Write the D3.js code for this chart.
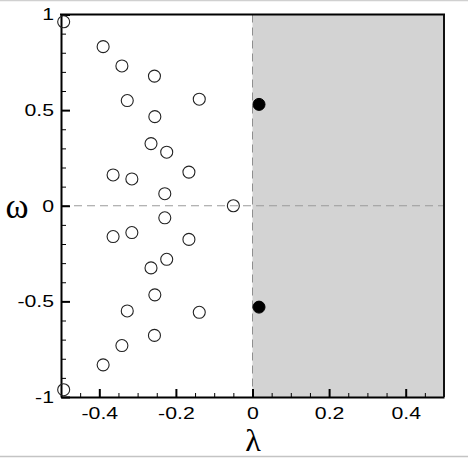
<!DOCTYPE html>
<html>
<head>
<meta charset="utf-8">
<script src="https://cdn.jsdelivr.net/npm/d3@7"></script>
<style>
html,body{margin:0;padding:0;background:#fff;}
svg{display:block;}
</style>
</head>
<body>
<svg id="chart" width="468" height="458"></svg>
<script>
// Stable eigenvalues (open circles)
const stableLambda = [-0.493,-0.390,-0.341,-0.256,-0.327,-0.139,-0.255,-0.265,-0.224,-0.364,-0.315,-0.166,-0.229,-0.050,
                      -0.229,-0.166,-0.315,-0.364,-0.224,-0.265,-0.255,-0.139,-0.327,-0.256,-0.341,-0.390,-0.493];
const stableOmega  = [0.962,0.832,0.731,0.678,0.550,0.557,0.466,0.325,0.280,0.161,0.140,0.176,0.063,0.000,
                      -0.063,-0.176,-0.140,-0.161,-0.280,-0.325,-0.466,-0.557,-0.550,-0.678,-0.731,-0.832,-0.962];
// Unstable eigenvalues (filled circles)
const unstableLambda = [0.017, 0.017];
const unstableOmega  = [0.530, -0.530];

const xMajorTicks = [-0.4,-0.2,0,0.2,0.4];
const yMajorTicks = [-1,-0.5,0,0.5,1];
const xDomain = [-0.5, 0.5];
const yDomain = [-1, 1];

const svg = d3.select("#chart");
const L = 61, R = 444, T = 14.5, B = 397;
const x = d3.scaleLinear().domain(xDomain).range([L, R]);
const y = d3.scaleLinear().domain(yDomain).range([B, T]);

const sans = "'Liberation Sans', Arial, Helvetica, sans-serif";
const serif = "'Liberation Serif', 'DejaVu Serif', serif";

// widen glyphs horizontally like the reference's stretched Helvetica
function widen(sel, k) {
  sel.each(function() {
    const w = this.getComputedTextLength();
    d3.select(this).attr("textLength", w * k).attr("lengthAdjust", "spacingAndGlyphs");
  });
}

// outer light border lines
svg.append("line").attr("x1",0).attr("x2",468).attr("y1",0.5).attr("y2",0.5).attr("stroke","#d0d0d0").attr("stroke-width",1.5);
svg.append("line").attr("x1",0).attr("x2",468).attr("y1",456.5).attr("y2",456.5).attr("stroke","#c4c4c4").attr("stroke-width",1.5);

// shaded unstable half-plane
svg.append("rect")
  .attr("x", x(0)).attr("y", y(1))
  .attr("width", x(0.5) - x(0)).attr("height", y(-1) - y(1))
  .attr("fill", "#d3d3d3");

// dashed reference lines
svg.append("line").attr("x1", x(0)).attr("x2", x(0)).attr("y1", y(1)).attr("y2", y(-1))
  .attr("stroke", "#8f8f8f").attr("stroke-width", 1).attr("stroke-dasharray", "8,5");
svg.append("line").attr("x1", x(-0.5)).attr("x2", x(0.5)).attr("y1", y(0)).attr("y2", y(0))
  .attr("stroke", "#9a9a9a").attr("stroke-width", 1).attr("stroke-dasharray", "8,5");

// axes with inward ticks
const xMinor = d3.range(-0.5, 0.5001, 0.05).map(v => +v.toFixed(2)).filter(v => !xMajorTicks.some(t => Math.abs(t - v) < 1e-6));
const yMinor = d3.range(-1, 1.0001, 0.1).map(v => +v.toFixed(2)).filter(v => !yMajorTicks.some(t => Math.abs(t - v) < 1e-6));

const fmt = v => (v === 0 ? "0" : String(v));

const xAxis = svg.append("g").attr("transform", `translate(0,${B})`)
  .call(d3.axisBottom(x).tickValues(xMajorTicks).tickSizeInner(-8).tickSizeOuter(0).tickPadding(10).tickFormat(fmt));
xAxis.select(".domain").attr("stroke", "#000").attr("stroke-width", 2);
xAxis.selectAll(".tick line").attr("stroke", "#000").attr("stroke-width", 2);
xAxis.selectAll(".tick text").style("font-family", sans).style("font-size", "17px").attr("fill", "#000")
  .call(widen, 1.25);
svg.append("g").attr("transform", `translate(0,${B})`)
  .call(d3.axisBottom(x).tickValues(xMinor).tickSize(-4).tickFormat(""))
  .call(g => { g.select(".domain").remove(); g.selectAll("line").attr("stroke", "#000").attr("stroke-width", 1); });

const yAxis = svg.append("g").attr("transform", `translate(${L},0)`)
  .call(d3.axisLeft(y).tickValues(yMajorTicks).tickSizeInner(-9).tickSizeOuter(0).tickPadding(7).tickFormat(fmt));
yAxis.select(".domain").attr("stroke", "#000").attr("stroke-width", 2);
yAxis.selectAll(".tick line").attr("stroke", "#000").attr("stroke-width", 2);
yAxis.selectAll(".tick text").style("font-family", sans).style("font-size", "17px").attr("fill", "#000")
  .call(widen, 1.25);
svg.append("g").attr("transform", `translate(${L},0)`)
  .call(d3.axisLeft(y).tickValues(yMinor).tickSize(-5).tickFormat(""))
  .call(g => { g.select(".domain").remove(); g.selectAll("line").attr("stroke", "#000").attr("stroke-width", 1); });

// top and right frame
svg.append("line").attr("x1", L - 1).attr("x2", R + 1).attr("y1", T).attr("y2", T).attr("stroke", "#000").attr("stroke-width", 2);
svg.append("line").attr("x1", R).attr("x2", R).attr("y1", T).attr("y2", B).attr("stroke", "#111").attr("stroke-width", 2);

// stable points
const stable = stableLambda.map((l, i) => ({l, w: stableOmega[i]}));
svg.append("g").selectAll("circle").data(stable).join("circle")
  .attr("cx", d => x(d.l)).attr("cy", d => y(d.w)).attr("r", 6)
  .attr("fill", "none").attr("stroke", "#222").attr("stroke-width", 1.1);

const unstable = unstableLambda.map((l, i) => ({l, w: unstableOmega[i]}));
svg.append("g").selectAll("circle").data(unstable).join("circle")
  .attr("cx", d => x(d.l)).attr("cy", d => y(d.w)).attr("r", 6)
  .attr("fill", "#000").attr("stroke", "#000").attr("stroke-width", 1);

// axis titles
svg.append("text").attr("x", 253).attr("y", 451).attr("text-anchor", "middle")
  .style("font-family", serif).style("font-size", "32px").attr("fill", "#000").text("λ");
svg.append("text").attr("x", 17).attr("y", 206).attr("text-anchor", "middle").attr("dominant-baseline", "central")
  .style("font-family", serif).style("font-size", "35px").attr("fill", "#000").text("ω");
</script>
</body>
</html>
